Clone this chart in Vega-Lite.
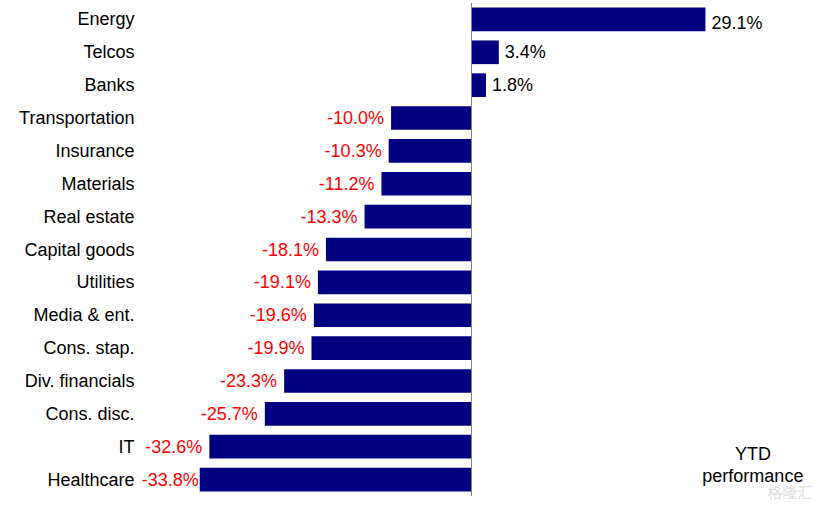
{
  "$schema": "https://vega.github.io/schema/vega-lite/v6.json",
  "width": 683, "height": 493,
  "autosize": "none",
  "padding": {"left": 135, "top": 3, "right": 0, "bottom": 12},
  "background": "white",
  "config": {"view": {"stroke": null}, "font": "Liberation Sans"},
  "datasets": {
    "rows": [
      {"sector": "Energy", "ytd": 29.1, "label": "29.1%"},
      {"sector": "Telcos", "ytd": 3.4, "label": "3.4%"},
      {"sector": "Banks", "ytd": 1.8, "label": "1.8%"},
      {"sector": "Transportation", "ytd": -10.0, "label": "-10.0%"},
      {"sector": "Insurance", "ytd": -10.3, "label": "-10.3%"},
      {"sector": "Materials", "ytd": -11.2, "label": "-11.2%"},
      {"sector": "Real estate", "ytd": -13.3, "label": "-13.3%"},
      {"sector": "Capital goods", "ytd": -18.1, "label": "-18.1%"},
      {"sector": "Utilities", "ytd": -19.1, "label": "-19.1%"},
      {"sector": "Media & ent.", "ytd": -19.6, "label": "-19.6%"},
      {"sector": "Cons. stap.", "ytd": -19.9, "label": "-19.9%"},
      {"sector": "Div. financials", "ytd": -23.3, "label": "-23.3%"},
      {"sector": "Cons. disc.", "ytd": -25.7, "label": "-25.7%"},
      {"sector": "IT", "ytd": -32.6, "label": "-32.6%"},
      {"sector": "Healthcare", "ytd": -33.8, "label": "-33.8%"}
    ]
  },
  "data": {"name": "rows"},
  "encoding": {
    "y": {"field": "sector", "type": "nominal", "sort": null,
      "scale": {"paddingInner": 0.28, "paddingOuter": 0.14},
      "axis": {"title": null, "domain": false, "ticks": false, "labelFontSize": 18, "labelColor": "#000000", "labelPadding": 1, "labelOffset": 1, "labelFont": "Liberation Sans"}}
  },
  "layer": [
    {
      "mark": {"type": "bar", "color": "#000080"},
      "encoding": {
        "x": {"field": "ytd", "type": "quantitative", "scale": {"domain": [-41.85, 43.1], "nice": false, "zero": false}, "axis": null},
        "x2": {"datum": 0}
      }
    },
    {
      "mark": {"type": "rule", "color": "#808080", "strokeWidth": 1},
      "data": {"values": [{"zero": 0}]},
      "encoding": {"x": {"field": "zero", "type": "quantitative"}, "y": null}
    },
    {
      "transform": [{"filter": "datum.ytd >= 0 && datum.sector != 'Energy'"}],
      "mark": {"type": "text", "align": "left", "dx": 6, "dy": 1, "fontSize": 18, "color": "#000000"},
      "encoding": {
        "x": {"field": "ytd", "type": "quantitative"},
        "text": {"field": "label"}
      }
    },
    {
      "transform": [{"filter": "datum.sector == 'Energy'"}],
      "mark": {"type": "text", "align": "left", "dx": 6, "dy": 5, "fontSize": 18, "color": "#000000"},
      "encoding": {
        "x": {"field": "ytd", "type": "quantitative"},
        "text": {"field": "label"}
      }
    },
    {
      "transform": [{"filter": "datum.ytd < 0 && datum.sector != 'Healthcare'"}],
      "mark": {"type": "text", "align": "right", "dx": -7, "dy": 1, "fontSize": 18, "color": "#ff0000"},
      "encoding": {
        "x": {"field": "ytd", "type": "quantitative"},
        "text": {"field": "label"}
      }
    },
    {
      "transform": [{"filter": "datum.sector == 'Healthcare'"}],
      "mark": {"type": "text", "align": "right", "dx": -1, "dy": 1, "fontSize": 18, "color": "#ff0000"},
      "encoding": {
        "x": {"field": "ytd", "type": "quantitative"},
        "text": {"field": "label"}
      }
    },
    {
      "data": {"values": [{"x": 35.0, "sector": "Healthcare", "note": "YTD\nperformance"}]},
      "mark": {"type": "text", "align": "center", "lineBreak": "\n", "lineHeight": 22, "dy": -25, "fontSize": 18, "color": "#000000"},
      "encoding": {
        "x": {"field": "x", "type": "quantitative"},
        "y": {"field": "sector", "type": "nominal", "sort": null},
        "text": {"field": "note"}
      }
    },
    {
      "data": {"values": [{"x": 39.6, "sector": "Healthcare", "note": "格隆汇"}]},
      "mark": {"type": "text", "align": "center", "dy": 13, "fontSize": 15, "font": "Noto Sans CJK SC", "color": "#dddddd"},
      "encoding": {
        "x": {"field": "x", "type": "quantitative"},
        "y": {"field": "sector", "type": "nominal", "sort": null},
        "text": {"field": "note"}
      }
    }
  ]
}
